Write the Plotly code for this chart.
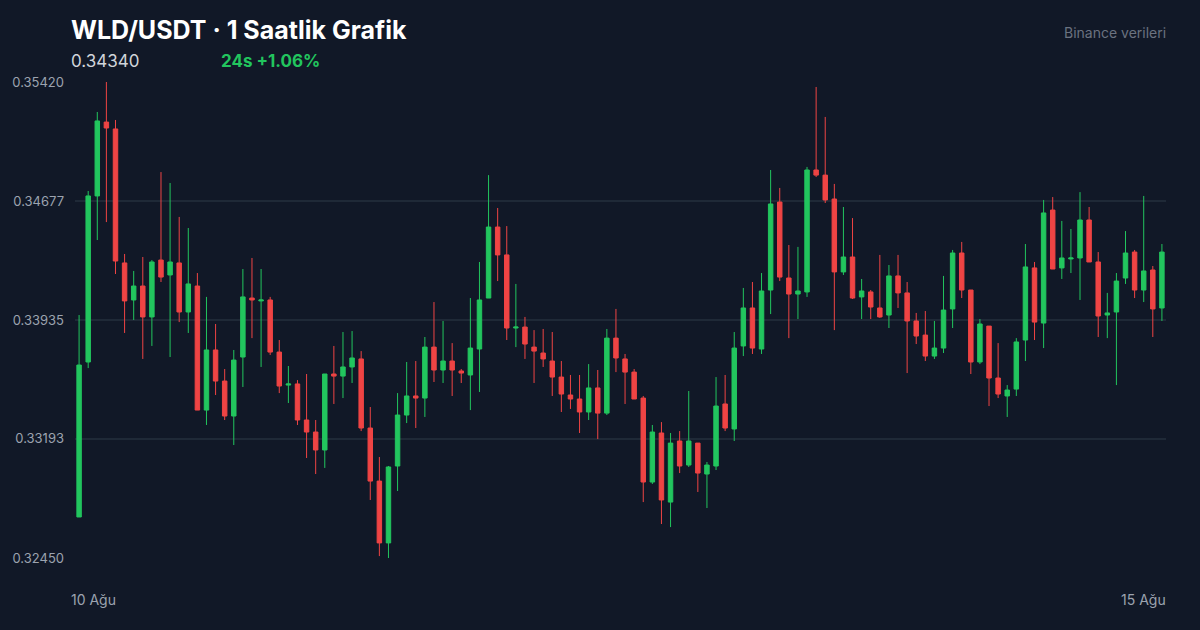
import plotly.graph_objects as go

open_ = [0.32706, 0.33673, 0.34709, 0.35170, 0.35127, 0.34291, 0.34060, 0.34147, 0.33954, 0.34309,
         0.34216, 0.34291, 0.33985, 0.34147, 0.33373, 0.33748, 0.33554, 0.33336, 0.33704, 0.34072,
         0.34054, 0.34060, 0.33735, 0.33529, 0.33536, 0.33311, 0.33236, 0.33124, 0.33598, 0.33585,
         0.33642, 0.33692, 0.33261, 0.32930, 0.32544, 0.33024, 0.33342, 0.33461, 0.33448, 0.33766,
         0.33623, 0.33679, 0.33617, 0.33592, 0.33754, 0.34072, 0.34515, 0.34341, 0.33885, 0.33891,
         0.33766, 0.33729, 0.33679, 0.33579, 0.33467, 0.33442, 0.33361, 0.33511, 0.33354, 0.33822,
         0.33692, 0.33610, 0.33448, 0.32924, 0.33230, 0.32799, 0.33180, 0.33030, 0.33167, 0.32974,
         0.33024, 0.33411, 0.33255, 0.33773, 0.34010, 0.33754, 0.34122, 0.34671, 0.34197, 0.34097,
         0.34110, 0.34871, 0.34839, 0.34690, 0.34235, 0.34328, 0.34079, 0.34110, 0.34010, 0.33966,
         0.34210, 0.34104, 0.33929, 0.33841, 0.33710, 0.33760, 0.34004, 0.34353, 0.34122, 0.33673,
         0.33897, 0.33573, 0.33461, 0.33504, 0.33810, 0.34260, 0.33916, 0.34621, 0.34260, 0.34316,
         0.34322, 0.34559, 0.34297, 0.33966, 0.33985, 0.34197, 0.34359, 0.34122, 0.34247, 0.34010]
close = [0.33654, 0.34709, 0.35177, 0.35133, 0.34303, 0.34054, 0.34147, 0.33954, 0.34297, 0.34203,
         0.34297, 0.33985, 0.34160, 0.33373, 0.33748, 0.33554, 0.33336, 0.33685, 0.34079, 0.34060,
         0.34060, 0.33735, 0.33523, 0.33536, 0.33311, 0.33236, 0.33124, 0.33598, 0.33585, 0.33642,
         0.33698, 0.33261, 0.32930, 0.32544, 0.33018, 0.33342, 0.33461, 0.33448, 0.33766, 0.33623,
         0.33679, 0.33623, 0.33604, 0.33760, 0.34060, 0.34515, 0.34341, 0.33885, 0.33891, 0.33785,
         0.33741, 0.33692, 0.33579, 0.33473, 0.33442, 0.33361, 0.33511, 0.33354, 0.33822, 0.33698,
         0.33610, 0.33442, 0.32924, 0.33236, 0.32812, 0.33167, 0.33024, 0.33180, 0.32980, 0.33030,
         0.33398, 0.33261, 0.33760, 0.34010, 0.33760, 0.34116, 0.34659, 0.34203, 0.34097, 0.34116,
         0.34871, 0.34839, 0.34684, 0.34235, 0.34328, 0.34072, 0.34116, 0.34016, 0.33954, 0.34210,
         0.34104, 0.33929, 0.33835, 0.33710, 0.33760, 0.33997, 0.34353, 0.34122, 0.33673, 0.33910,
         0.33573, 0.33473, 0.33498, 0.33798, 0.34266, 0.33922, 0.34603, 0.34253, 0.34322, 0.34322,
         0.34559, 0.34297, 0.33960, 0.33979, 0.34178, 0.34353, 0.34122, 0.34241, 0.34004, 0.34359]
high = [0.33966, 0.34740, 0.35233, 0.35420, 0.35183, 0.34347, 0.34241, 0.34328, 0.34309, 0.34858,
        0.34790, 0.34578, 0.34509, 0.34228, 0.34079, 0.33910, 0.33629, 0.33748, 0.34253, 0.34322,
        0.34253, 0.34079, 0.33810, 0.33648, 0.33560, 0.33598, 0.33311, 0.33598, 0.33773, 0.33860,
        0.33866, 0.33741, 0.33392, 0.33080, 0.33024, 0.33479, 0.33673, 0.33679, 0.33829, 0.34047,
        0.33929, 0.33791, 0.33629, 0.34072, 0.34297, 0.34839, 0.34634, 0.34521, 0.34160, 0.33954,
        0.33872, 0.33879, 0.33860, 0.33679, 0.33592, 0.33592, 0.33660, 0.33623, 0.33879, 0.34004,
        0.33723, 0.33629, 0.33461, 0.33280, 0.33298, 0.33230, 0.33242, 0.33492, 0.33167, 0.33049,
        0.33579, 0.33592, 0.33860, 0.34135, 0.34172, 0.34228, 0.34871, 0.34759, 0.34403, 0.34391,
        0.34890, 0.35389, 0.35202, 0.34784, 0.34640, 0.34571, 0.34191, 0.34122, 0.34341, 0.34278,
        0.34341, 0.34172, 0.33979, 0.33991, 0.33929, 0.34210, 0.34372, 0.34422, 0.34122, 0.33941,
        0.33897, 0.33791, 0.33529, 0.33822, 0.34409, 0.34297, 0.34684, 0.34702, 0.34553, 0.34503,
        0.34733, 0.34640, 0.34359, 0.34104, 0.34228, 0.34490, 0.34372, 0.34709, 0.34272, 0.34409]
low = [0.32706, 0.33635, 0.34434, 0.34546, 0.34222, 0.33854, 0.33935, 0.33692, 0.33773, 0.34172,
       0.33704, 0.33922, 0.33854, 0.33373, 0.33280, 0.33467, 0.33311, 0.33155, 0.33517, 0.33822,
       0.33642, 0.33717, 0.33479, 0.33417, 0.33280, 0.33074, 0.32974, 0.33012, 0.33411, 0.33448,
       0.33542, 0.33242, 0.32812, 0.32462, 0.32450, 0.32868, 0.33292, 0.33261, 0.33330, 0.33548,
       0.33542, 0.33461, 0.33542, 0.33373, 0.33486, 0.34072, 0.34178, 0.33810, 0.33766, 0.33692,
       0.33542, 0.33642, 0.33461, 0.33361, 0.33380, 0.33230, 0.33311, 0.33192, 0.33342, 0.33610,
       0.33411, 0.33442, 0.32799, 0.32912, 0.32662, 0.32643, 0.32980, 0.33018, 0.32862, 0.32762,
       0.32999, 0.33242, 0.33180, 0.33710, 0.33723, 0.33723, 0.33972, 0.34178, 0.33822, 0.33941,
       0.34079, 0.34827, 0.34665, 0.33872, 0.34216, 0.34066, 0.33941, 0.33941, 0.33948, 0.33885,
       0.34010, 0.33604, 0.33785, 0.33679, 0.33692, 0.33729, 0.33885, 0.34072, 0.33598, 0.33660,
       0.33398, 0.33448, 0.33330, 0.33461, 0.33679, 0.33810, 0.33760, 0.34253, 0.34191, 0.34228,
       0.34060, 0.34297, 0.33829, 0.33822, 0.33529, 0.34160, 0.34072, 0.34047, 0.33829, 0.33929]

hours = list(range(len(open_)))
y_ticks = [0.32450, 0.33193, 0.33935, 0.34677, 0.35420]
x_labels = ["10 Ağu", "15 Ağu"]

BG = "#111827"
GREEN = "#22c55e"
RED = "#ef4444"
MUTED = "#9ca3af"
PLOT_H = 476

fig = go.Figure(go.Candlestick(
    x=hours, open=open_, high=high, low=low, close=close,
    increasing=dict(line=dict(color=GREEN, width=1), fillcolor=GREEN),
    decreasing=dict(line=dict(color=RED, width=1), fillcolor=RED),
    whiskerwidth=0,
))

fig.update_layout(
    width=1200, height=630,
    paper_bgcolor=BG, plot_bgcolor=BG,
    margin=dict(l=72, r=34, t=82, b=72),
    showlegend=False,
    font=dict(family="Inter, Roboto, sans-serif", color=MUTED, size=13),
    xaxis=dict(range=[-0.45, 119.45], showgrid=False, showticklabels=False,
               zeroline=False, rangeslider=dict(visible=False)),
    yaxis=dict(range=[0.32450, 0.35420], tickvals=y_ticks,
               ticktext=[f"{v:.5f}" for v in y_ticks],
               gridcolor="#1f2937", gridwidth=1.5, zeroline=False,
               ticks="", ticklabelstandoff=10),
)

for i, (lbl, xa) in enumerate(zip(x_labels, ["left", "right"])):
    fig.add_annotation(text=lbl, xref="paper", yref="paper", x=i, y=-41 / PLOT_H,
                       xanchor=xa, yanchor="middle", showarrow=False,
                       xshift=-6 if i == 0 else 2, font=dict(size=14, color=MUTED))

fig.add_annotation(text="<b>WLD/USDT · 1 Saatlik Grafik</b>", xref="paper", yref="paper",
                   x=0, y=1 + 52 / PLOT_H, xanchor="left", yanchor="middle", showarrow=False,
                   xshift=-6, font=dict(size=25, color="#ffffff"))
fig.add_annotation(text="0.34340", xref="paper", yref="paper",
                   x=0, y=1 + 21 / PLOT_H, xanchor="left", yanchor="middle", showarrow=False,
                   xshift=-6, font=dict(size=17, color="#d1d5db"))
fig.add_annotation(text="<b>24s +1.06%</b>", xref="paper", yref="paper",
                   x=150 / 1094, y=1 + 21 / PLOT_H, xanchor="left", yanchor="middle", showarrow=False,
                   xshift=-6, font=dict(size=17, color=GREEN))
fig.add_annotation(text="Binance verileri", xref="paper", yref="paper",
                   x=1, y=1 + 49 / PLOT_H, xanchor="right", yanchor="middle", showarrow=False,
                   xshift=2, font=dict(size=14, color="#6b7280"))

fig.write_html("out.html", config={"displayModeBar": False},
               post_script="document.body.style.margin='0';document.body.style.background='#111827';")
